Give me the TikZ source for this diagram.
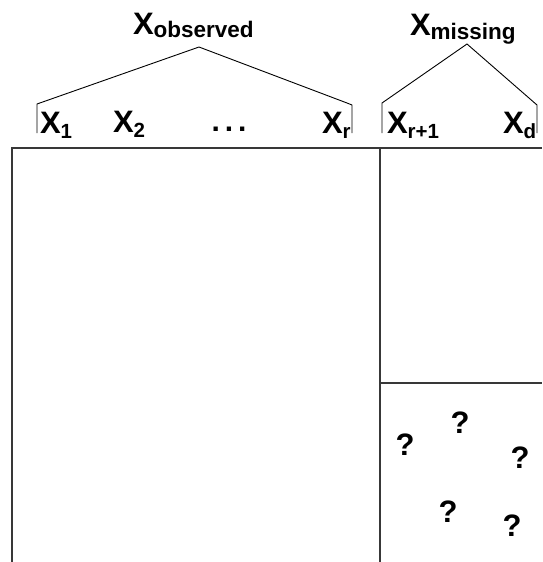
\documentclass[tikz,border=0pt]{standalone}
\usepackage{fontspec}
\setmainfont{Liberation Sans}
\newcommand{\bigX}{{\fontsize{31}{31}\selectfont X}}
\newcommand{\titlesub}[1]{\raisebox{-4pt}{\fontsize{22.5}{22.5}\selectfont #1}}
\newcommand{\colsub}[1]{\raisebox{-5pt}{\fontsize{20.5}{20.5}\selectfont #1}}
\begin{document}
\begin{tikzpicture}[x=1pt,y=-1pt,
  lbl/.style={inner sep=0pt,outer sep=0pt,anchor=base west,font=\bfseries},
  qmark/.style={inner sep=0pt,outer sep=0pt,font=\bfseries\fontsize{31}{31}\selectfont},
  frame/.style={draw=black!78,line width=2pt},
  brace/.style={draw=black,line width=0.9pt,line join=miter}]
\useasboundingbox (0,0) rectangle (542,562);

% group titles
\node[lbl] (tobs) at (133,34) {\bigX\titlesub{observed}};
\node[lbl] (tmis) at (410,35) {\bigX\titlesub{missing}};

% column labels
\node[lbl] (x1) at (40,133) {\bigX\colsub{1}};
\node[lbl] (x2) at (113,132) {\bigX\colsub{2}};
\node[inner sep=0pt,font=\bfseries\fontsize{30}{30}\selectfont] (dots) at (229,129) {.\kern5pt.\kern5pt.};
\node[lbl] (xr) at (322,133) {\bigX\colsub{r}};
\node[lbl] (xr1) at (387,133) {\bigX\colsub{r+1}};
\node[lbl] (xd) at (503,133) {\bigX\colsub{d}};

% brackets joining each group of columns to its title
\coordinate (aobs) at (199,47);
\coordinate (amis) at (467,44);
\draw[brace] (37,133) -- (37,104) -- (aobs) -- (347,103) -- (352,105) -- (352,133);
\draw[brace] (382,133) -- (382,103) -- (amis) -- (537,105) -- (537,133);

% data matrix frame
\draw[frame] (12,562) -- (12,148) -- (542,148);
\draw[frame] (380,148) -- (380,562);
\draw[frame] (380,383) -- (542,383);

% unknown entries
\node[qmark] (q1) at (405,445) {?};
\node[qmark] (q2) at (460,423) {?};
\node[qmark] (q3) at (520,458) {?};
\node[qmark] (q4) at (448,512) {?};
\node[qmark] (q5) at (512,526) {?};
\end{tikzpicture}
\end{document}
